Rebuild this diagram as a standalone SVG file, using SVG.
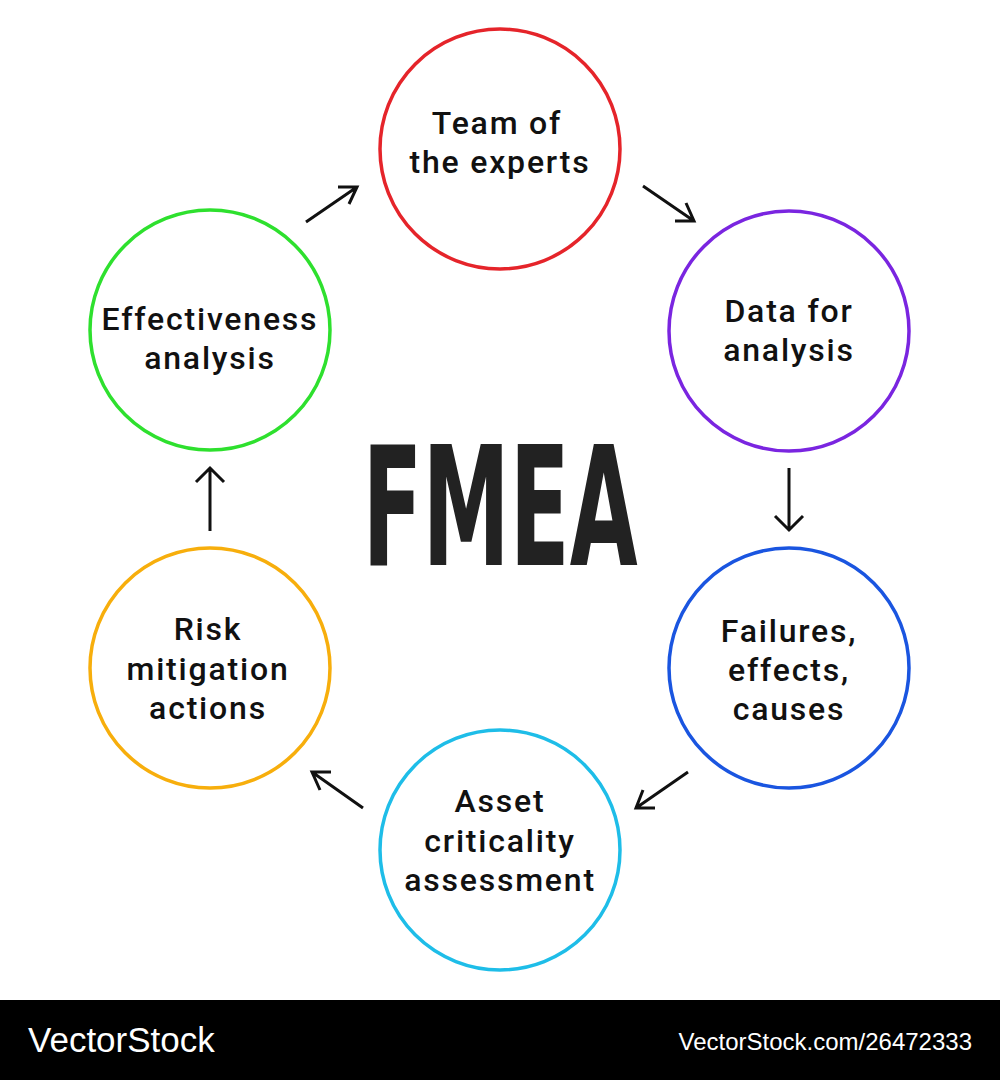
<svg xmlns="http://www.w3.org/2000/svg" width="1000" height="1080" viewBox="0 0 1000 1080">
<style>
.c{fill:none;stroke-width:3.5}
.t{font-family:Roboto,"Liberation Sans",sans-serif;font-weight:500;font-size:32px;letter-spacing:1.8px;fill:#111;text-anchor:middle}
</style>
<rect width="1000" height="1080" fill="#fff"/>
<g id="team"><circle class="c" cx="500" cy="149" r="120" stroke="#e5242a"/><text class="t" x="497" y="134">Team of</text><text class="t" x="500" y="173">the experts</text></g>
<g id="data"><circle class="c" cx="789" cy="331" r="120" stroke="#7a25e0"/><text class="t" x="789" y="322">Data for</text><text class="t" x="789" y="361">analysis</text></g>
<g id="failures"><circle class="c" cx="789" cy="668" r="120" stroke="#1a55e0"/><text class="t" x="789" y="642">Failures,</text><text class="t" x="789" y="681">effects,</text><text class="t" x="789" y="720">causes</text></g>
<g id="asset"><circle class="c" cx="500" cy="850" r="120" stroke="#1ebde8"/><text class="t" x="500" y="812">Asset</text><text class="t" x="500" y="852">criticality</text><text class="t" x="500" y="891">assessment</text></g>
<g id="risk"><circle class="c" cx="210" cy="668" r="120" stroke="#f7ae0c"/><text class="t" x="208" y="640">Risk</text><text class="t" x="208" y="680">mitigation</text><text class="t" x="208" y="719">actions</text></g>
<g id="effect"><circle class="c" cx="210" cy="330" r="120" stroke="#2ee02e"/><text class="t" x="210" y="330">Effectiveness</text><text class="t" x="210" y="369">analysis</text></g>
<g id="connectors" stroke="#111" stroke-width="3" fill="none">
<path d="M306,222 L357,187 M338,187 L357,187 L349,204"/>
<path d="M643,186 L694,221 M686,203 L694,221 L675,221"/>
<path d="M789,468 L789,530 M775,516 L789,530 L803,516"/>
<path d="M688,772 L636,808 M643,790 L636,808 L655,808"/>
<path d="M363,808 L312,772 M331,772 L312,772 L320,790"/>
<path d="M210,531 L210,468 M196,482 L210,468 L224,482"/>
</g>
<text x="500" y="565" font-family="DejaVu Sans Condensed,Liberation Sans Narrow,sans-serif" font-weight="bold" font-size="165" fill="#222" text-anchor="middle" textLength="275" lengthAdjust="spacingAndGlyphs">FMEA</text>
<rect y="1000" width="1000" height="80" fill="#000"/>
<text x="28" y="1052" font-family="Liberation Sans,sans-serif" font-size="35" fill="#fff">VectorStock</text>
<text x="972" y="1050" font-family="Liberation Sans,sans-serif" font-size="24" fill="#fff" text-anchor="end">VectorStock.com/26472333</text>
</svg>
